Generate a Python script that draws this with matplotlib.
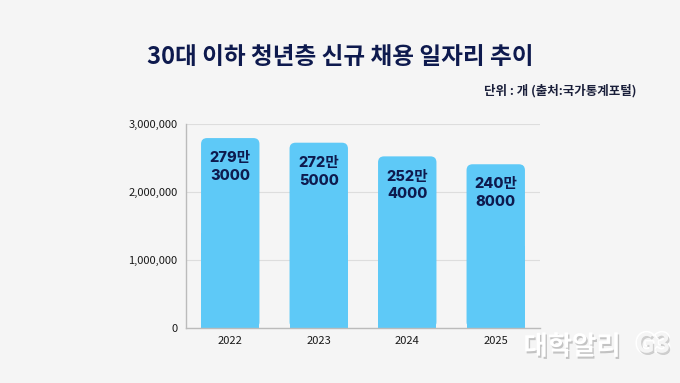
import matplotlib
matplotlib.use("Agg")
import matplotlib.pyplot as plt
from matplotlib.patches import FancyBboxPatch
from matplotlib.ticker import FuncFormatter
import matplotlib.patheffects as pe

plt.rcParams['font.family'] = ['Noto Sans CJK KR', 'DejaVu Sans']

years = ["2022", "2023", "2024", "2025"]
values = [2793000, 2725000, 2524000, 2408000]
bar_labels = ["279만\n3000", "272만\n5000", "252만\n4000", "240만\n8000"]
title = "30대 이하 청년층 신규 채용 일자리 추이"
subtitle = "단위 : 개 (출처:국가통계포털)"

BG = "#f5f5f5"
BAR = "#5ec9f7"
NAVY = "#0e1a4e"

fig = plt.figure(figsize=(6.8, 3.83), dpi=100, facecolor=BG)
ax = fig.add_axes([186/680, 1-328/383, 354/680, 204/383])
ax.set_facecolor(BG)

x = list(range(len(years)))
width = 0.66
bars = ax.bar(x, values, width=width, color=BAR, zorder=2)
ax.set_xlim(-0.5, 3.5)
ax.set_ylim(0, 3000000)

# rounded top corners
x_per_px = 4 / 354
y_per_px = 3000000 / 204
r = 6 * x_per_px
aspect = y_per_px / x_per_px
for b in bars:
    b.set_visible(False)
    x0, w, h = b.get_x(), b.get_width(), b.get_height()
    ax.add_patch(FancyBboxPatch((x0, 0), w, h,
                                boxstyle=f"round,pad=0,rounding_size={r}",
                                mutation_aspect=aspect, fc=BAR, ec="none", zorder=2))
    ax.add_patch(plt.Rectangle((x0, 0), w, h / 2, fc=BAR, ec="none", zorder=2))

for xi, v, lab in zip(x, values, bar_labels):
    ax.annotate(lab, (xi, v), xytext=(0, -9.5), textcoords="offset points",
                ha="center", va="top", fontsize=10.5, fontweight="heavy",
                family=['Inter', 'Noto Sans CJK KR'],
                color=NAVY, linespacing=1.35, zorder=3)

ax.set_xticks(x)
ax.set_xticklabels(years)
ax.set_yticks([0, 1000000, 2000000, 3000000])
ax.yaxis.set_major_formatter(FuncFormatter(lambda v, p: f"{int(v):,}"))
ax.tick_params(axis="both", length=0, labelsize=8, colors="#1a1a1a")
ax.tick_params(axis="x", pad=6)
ax.tick_params(axis="y", pad=6)
ax.grid(axis="y", color="#dddddd", linewidth=0.8, zorder=0)
for s in ["top", "right"]:
    ax.spines[s].set_visible(False)
for s in ["left", "bottom"]:
    ax.spines[s].set_color("#bbbbbb")
    ax.spines[s].set_linewidth(1.0)

fig.text(340/680, 1-57/383, title, ha="center", va="center",
         fontsize=17, fontweight="heavy", color=NAVY)
fig.text(636/680, 1-91/383, subtitle, ha="right", va="center",
         fontsize=9, fontweight="bold", color="#1a1f3a")

fig.text(572/680, 1-347/383, "대학알리", ha="center", va="center",
         fontsize=19, fontweight="bold", color="white",
         path_effects=[pe.withSimplePatchShadow(offset=(1, -1.5), shadow_rgbFace="#888888", alpha=0.45)])
fig.text(653/680, 1-345/383, "G3", ha="center", va="center",
         fontsize=19, fontweight="bold", color=BG, style="italic",
         path_effects=[pe.withStroke(linewidth=2.5, foreground="white"),
                       pe.withSimplePatchShadow(offset=(1, -1.5), shadow_rgbFace="#888888", alpha=0.4)])

fig.savefig("out.png", dpi=100, facecolor=BG)
